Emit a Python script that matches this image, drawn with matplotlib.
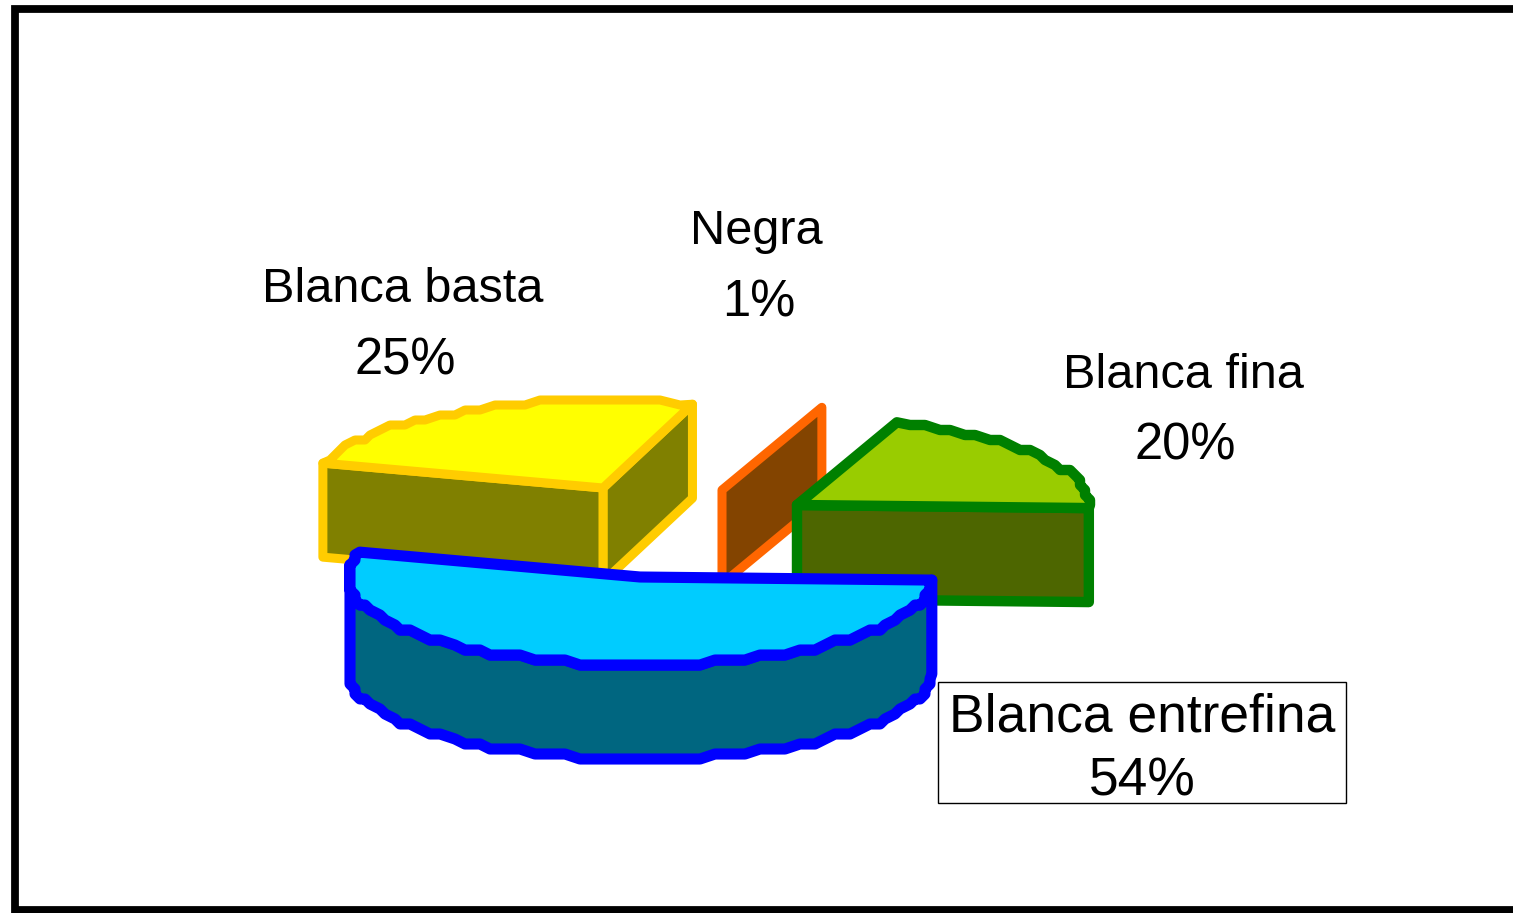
import numpy as np
import matplotlib
matplotlib.use("Agg")
import matplotlib.pyplot as plt
from matplotlib.patches import Polygon, Rectangle

categories = ["Blanca fina", "Negra", "Blanca basta", "Blanca entrefina"]
values = [20, 0.6, 25.4, 54]
top_colors = ["#99CC00", "#FF6600", "#FFFF00", "#00CCFF"]
side_colors = ["#4D6600", "#834400", "#808000", "#006680"]
edge_colors = ["#008000", "#FF6600", "#FFCC00", "#0000FF"]
centers = [(797, 505), (722, 490), (603, 488), (640, 577)]
label_pos = [(1183, 376, 1185, 446), (756, 232, 759, 303), (403, 290, 405, 361), (1142, 717, 1142, 782)]
line_widths = [7.5, 6.5, 6.5, 8]
visible_cuts = [("start",), ("start",), ("start", "end"), ()]
draw_order = [2, 1, 0, 3]

RX, RY, DEPTH = 292, 88, 94
START = -2
STEP = 3
STAIR = 5

plt.rcParams["font.family"] = ["Liberation Sans", "DejaVu Sans"]
fig = plt.figure(figsize=(15.13, 9.13), dpi=100)
ax = fig.add_axes([0, 0, 1, 1])
ax.set_xlim(0, 1513)
ax.set_ylim(913, 0)
ax.axis("off")

ax.add_patch(Rectangle((14.5, 9), 1600, 901.5, fc="white", ec="black", lw=5.6))

angles = START + np.cumsum([0] + values) * 3.6


def arc(c, a, b):
    n = max(int(abs(b - a) / STEP), 1)
    t = np.radians(np.linspace(a, b, n + 1))
    x = np.round((c[0] + RX * np.cos(t)) / STAIR) * STAIR
    y = np.round((c[1] - RY * np.sin(t)) / STAIR) * STAIR
    x[[0, -1]] = c[0] + RX * np.cos(t[[0, -1]])
    y[[0, -1]] = c[1] - RY * np.sin(t[[0, -1]])
    return x, y


for i in draw_order:
    c = centers[i]
    ax_x, ax_y = arc(c, angles[i], angles[i + 1])
    kw = dict(ec=edge_colors[i], lw=line_widths[i], joinstyle="round")
    for which in visible_cuts[i]:
        j = 0 if which == "start" else -1
        x, y = ax_x[j], ax_y[j]
        face = [c, (x, y), (x, y + DEPTH), (c[0], c[1] + DEPTH)]
        ax.add_patch(Polygon(face, fc=side_colors[i], **kw))
    if i == 3:
        xs, ys = ax_x[3:], ax_y[3:]
        wall = list(zip(xs, ys)) + list(zip(xs[::-1], ys[::-1] + DEPTH))
        ax.add_patch(Polygon(wall, fc=side_colors[i], **kw))
    if i != 1:
        top = [c] + list(zip(ax_x, ax_y))
        ax.add_patch(Polygon(top, fc=top_colors[i], **kw))

for i, name in enumerate(categories):
    x1, y1, x2, y2 = label_pos[i]
    front = i == 3
    ax.text(x1, y1, name, ha="center", va="center", fontsize=38.4 if front else 35, color="black", zorder=5)
    ax.text(x2, y2, f"{round(values[i])}%", ha="center", va="center", fontsize=38.4 if front else 36.5, color="black", zorder=5)

ax.add_patch(Rectangle((938, 682), 408, 121, fc="none", ec="black", lw=1, zorder=4))

fig.savefig("out.png", dpi=100)
